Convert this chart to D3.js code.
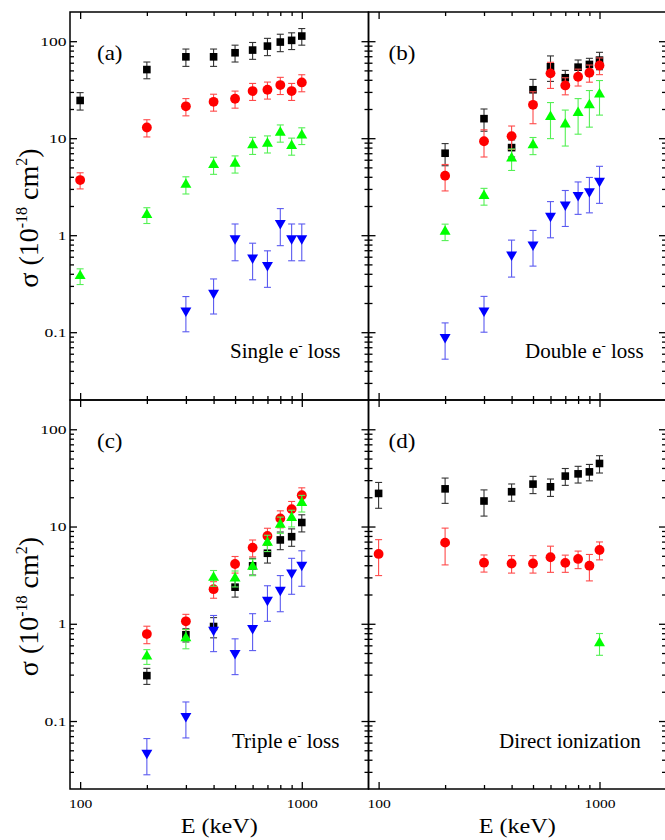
<!DOCTYPE html>
<html>
<head>
<meta charset="utf-8">
<script src="https://cdn.jsdelivr.net/npm/d3@7"></script>
<style>
body { margin: 0; background: #fff; }
svg, svg text { font-family: "Liberation Serif", "DejaVu Serif", serif; fill: #000; }
</style>
</head>
<body>
<svg id="chart" width="665" height="840"></svg>
<script>
// projectile energies (keV)
const energies = [100, 200, 300, 400, 500, 600, 700, 800, 900, 1000];

// (a) single electron loss
const singleBlack = [24.5, 51, 69, 69, 76, 81, 89, 98, 102, 113];
const singleBlackErr = [5, 10, 14, 14, 15, 16, 18, 20, 20, 22];
const singleRed = [3.7, 12.9, 21.3, 23.7, 25.5, 30.6, 31.6, 35.3, 30.6, 37.6];
const singleRedErr = [0.7, 2.6, 4.3, 4.7, 5.1, 6.1, 6.3, 7.1, 6.1, 7.5];
const singleGreen = [0.38, 1.62, 3.33, 5.3, 5.47, 8.5, 8.8, 11.4, 8.35, 10.7];
const singleGreenErr = [0.07, 0.3, 0.67, 1.06, 1.1, 1.7, 1.76, 2.3, 1.67, 2.1];
const singleBlue = [null, null, 0.167, 0.254, 0.925, 0.587, 0.49, 1.33, 0.925, 0.925];
const singleBlueErr = [null, null, 0.066, 0.1, 0.38, 0.24, 0.2, 0.55, 0.38, 0.38];

// (b) double electron loss
const doubleBlack = [null, 7.0, 15.9, 8.0, 31.6, 54.5, 42, 54, 57.6, 63.8];
const doubleBlackErr = [null, 1.8, 4.1, 1.6, 8.8, 16, 8, 10, 9, 13];
const doubleRed = [null, 4.11, 9.3, 10.5, 22.1, 46.6, 35, 43, 47.3, 56.2];
const doubleRedErr = [null, 1.25, 2.9, 2.85, 8, 14, 7, 8.5, 9.5, 11];
const doubleGreen = [null, 1.09, 2.54, 6.2, 8.47, 16.6, 13.9, 18.3, 22, 28.3];
const doubleGreenErr = [null, 0.21, 0.5, 1.55, 1.7, 6.7, 5.6, 7.3, 9, 11];
const doubleBlue = [null, 0.0887, 0.167, 0.63, 0.8, 1.58, 2.06, 2.59, 2.82, 3.63];
const doubleBlueErr = [null, 0.036, 0.067, 0.26, 0.32, 0.64, 0.83, 0.95, 1.12, 1.5];

// (c) triple electron loss
const tripleBlack = [null, 0.293, 0.77, 0.937, 2.38, 3.94, 5.31, 7.28, 7.86, 11.0];
const tripleBlackErr = [null, 0.055, 0.12, 0.22, 0.5, 0.77, 1.1, 1.5, 1.6, 2.2];
const tripleRed = [null, 0.784, 1.06, 2.27, 4.12, 6.07, 8.0, 12.1, 15.1, 21.0];
const tripleRedErr = [null, 0.16, 0.19, 0.44, 0.8, 1.2, 1.6, 2.4, 3.0, 4.0];
const tripleGreen = [null, 0.462, 0.713, 2.98, 2.94, 3.87, 6.83, 10.5, 12.3, 17.5];
const tripleGreenErr = [null, 0.08, 0.16, 0.55, 0.55, 0.75, 1.3, 2.0, 2.4, 3.4];
const tripleBlue = [null, 0.047, 0.112, 0.867, 0.5, 0.9, 1.76, 2.23, 3.36, 4.03];
const tripleBlueErr = [null, 0.019, 0.045, 0.35, 0.2, 0.37, 0.7, 0.9, 1.35, 1.6];

// (d) direct ionization
const directBlack = [21.9, 24.4, 18.3, 22.8, 27.3, 25.6, 33, 34.8, 36.5, 44.5];
const directBlackErr = [6.5, 7.1, 5.5, 4.6, 5.5, 5.2, 6.5, 6.8, 7, 9];
const directRed = [5.23, 6.83, 4.25, 4.17, 4.17, 4.83, 4.23, 4.64, 3.96, 5.74];
const directRedErr = [2.1, 2.8, 0.85, 0.85, 0.85, 1.45, 0.85, 0.95, 1.2, 1.2];
const directGreen = [null, null, null, null, null, null, null, null, null, 0.634];
const directGreenErr = [null, null, null, null, null, null, null, null, null, 0.16];

// axes
const xDomain = [90, 2000];
const yDomain = [0.02, 200];
const xMajor = [100, 1000];
const xMinor = [200, 300, 400, 500, 600, 700, 800, 900];
const yMajor = [0.1, 1, 10, 100];
const yMinor = [0.03, 0.04, 0.05, 0.06, 0.07, 0.08, 0.09,
  0.2, 0.3, 0.4, 0.5, 0.6, 0.7, 0.8, 0.9,
  2, 3, 4, 5, 6, 7, 8, 9,
  20, 30, 40, 50, 60, 70, 80, 90];

const panelTags = ['(a)', '(b)', '(c)', '(d)'];
const panelNames = ['Single e', 'Double e', 'Triple e', 'Direct ionization'];

const styles = [
  {shape: d3.symbolSquare, size: 58, rot: 0, fill: '#000', bar: '#333'},
  {shape: d3.symbolCircle, size: 76, rot: 0, fill: '#ff0000', bar: '#ff4a4a'},
  {shape: d3.symbolTriangle, size: 52, rot: 0, fill: '#00ff00', bar: '#55f055'},
  {shape: d3.symbolTriangle, size: 52, rot: 180, fill: '#0000ff', bar: '#5a5af0'}
];

const L = 70, M = 368.5, R = 666, T = 12, H = 400, B = 789;

const panels = [
  {x0: L, x1: M, y0: T, y1: H, left: true, bottom: false, nameX: 230, nameY: 358, loss: true,
    series: [singleBlack, singleRed, singleGreen, singleBlue],
    errs: [singleBlackErr, singleRedErr, singleGreenErr, singleBlueErr]},
  {x0: M, x1: R, y0: T, y1: H, left: false, bottom: false, nameX: 525, nameY: 358, loss: true,
    series: [doubleBlack, doubleRed, doubleGreen, doubleBlue],
    errs: [doubleBlackErr, doubleRedErr, doubleGreenErr, doubleBlueErr]},
  {x0: L, x1: M, y0: H, y1: B, left: true, bottom: true, nameX: 232, nameY: 748, loss: true,
    series: [tripleBlack, tripleRed, tripleGreen, tripleBlue],
    errs: [tripleBlackErr, tripleRedErr, tripleGreenErr, tripleBlueErr]},
  {x0: M, x1: R, y0: H, y1: B, left: false, bottom: true, nameX: 499, nameY: 748, loss: false,
    series: [directBlack, directRed, directGreen],
    errs: [directBlackErr, directRedErr, directGreenErr]}
];

const svg = d3.select('#chart');

function addAxis(g, orient, scale, pos, labelled) {
  const make = {left: d3.axisLeft, right: d3.axisRight, top: d3.axisTop, bottom: d3.axisBottom}[orient];
  const isX = orient === 'top' || orient === 'bottom';
  const tr = isX ? `translate(0,${pos})` : `translate(${pos},0)`;
  const gMin = g.append('g').attr('transform', tr)
    .call(make(scale).tickValues(isX ? xMinor : yMinor).tickSize(-4).tickFormat(''));
  const gMaj = g.append('g').attr('transform', tr)
    .call(make(scale).tickValues(isX ? xMajor : yMajor).tickSize(-7)
      .tickPadding(labelled ? (isX ? 10 : 3.5) : 0)
      .tickFormat(labelled ? d3.format('~g') : ''));
  [gMin, gMaj].forEach(a => {
    a.attr('font-family', null).attr('font-size', null);
    a.select('.domain').remove();
    a.selectAll('line').attr('stroke', '#000').attr('stroke-width', 1.3);
  });
  if (labelled) {
    const sx = isX ? 1.2 : 1.35;
    gMaj.selectAll('text')
      .style('font-size', '13px')
      .attr('transform', `scale(${sx},1)`)
      .attr('x', isX ? 0 : -3.5 / sx);
  }
}

panels.forEach((p, pi) => {
  const x = d3.scaleLog().domain(xDomain).range([p.x0, p.x1]);
  const y = d3.scaleLog().domain(yDomain).range([p.y1, p.y0]);
  const g = svg.append('g');

  addAxis(g, 'left', y, p.x0, p.left);
  addAxis(g, 'right', y, p.x1, false);
  addAxis(g, 'top', x, p.y0, false);
  addAxis(g, 'bottom', x, p.y1, p.bottom);

  g.append('rect')
    .attr('x', p.x0).attr('y', p.y0)
    .attr('width', p.x1 - p.x0).attr('height', p.y1 - p.y0)
    .attr('fill', 'none').attr('stroke', '#000').attr('stroke-width', 1.5);

  p.series.forEach((vals, k) => {
    const s = styles[k];
    const pts = energies.map((e, i) => ({e: e, v: vals[i], err: p.errs[k][i]}))
      .filter(d => d.v != null);
    const gs = g.append('g');
    gs.selectAll('line.bar').data(pts).join('line')
      .attr('class', 'bar')
      .attr('x1', d => x(d.e)).attr('x2', d => x(d.e))
      .attr('y1', d => y(d.v + d.err)).attr('y2', d => y(d.v - d.err))
      .attr('stroke', s.bar).attr('stroke-width', 1.1);
    [1, -1].forEach(sign => {
      gs.selectAll('line.cap' + sign).data(pts).join('line')
        .attr('x1', d => x(d.e) - 3.5).attr('x2', d => x(d.e) + 3.5)
        .attr('y1', d => y(d.v + sign * d.err)).attr('y2', d => y(d.v + sign * d.err))
        .attr('stroke', s.bar).attr('stroke-width', 1.1);
    });
    gs.selectAll('path').data(pts).join('path')
      .attr('d', d3.symbol().type(s.shape).size(s.size))
      .attr('transform', d => `translate(${x(d.e)},${y(d.v)}) rotate(${s.rot})`)
      .attr('fill', s.fill);
  });

  // panel tag
  g.append('text')
    .attr('transform', `translate(${p.x0 + (pi % 2 ? 20 : 27)},${p.y0 + 48}) scale(1.15,1)`)
    .style('font-size', '20px')
    .text(panelTags[pi]);

  // panel name
  const t = g.append('text')
    .attr('x', p.nameX).attr('y', p.nameY)
    .style('font-size', '21px');
  t.append('tspan').text(panelNames[pi]);
  if (p.loss) {
    t.append('tspan').attr('dy', -8).style('font-size', '13px').text('-');
    t.append('tspan').attr('dy', 8).text(' loss');
  }

  // y title
  if (p.left) {
    const yt = g.append('text')
      .attr('transform', `translate(38,${(p.y0 + p.y1) / 2 + 12}) rotate(-90)`)
      .attr('text-anchor', 'middle')
      .style('font-size', '28px');
    yt.append('tspan').text('σ (10');
    yt.append('tspan').attr('dy', -11).style('font-size', '16px').text('-18');
    yt.append('tspan').attr('dy', 11).text(' cm');
    yt.append('tspan').attr('dy', -11).style('font-size', '16px').text('2');
    yt.append('tspan').attr('dy', 11).text(')');
  }

  // x title
  if (p.bottom) {
    g.append('text')
      .attr('transform', `translate(${(p.x0 + p.x1) / 2},833) scale(1.1,1)`)
      .attr('text-anchor', 'middle')
      .style('font-size', '22px')
      .text('E (keV)');
  }
});
</script>
</body>
</html>
